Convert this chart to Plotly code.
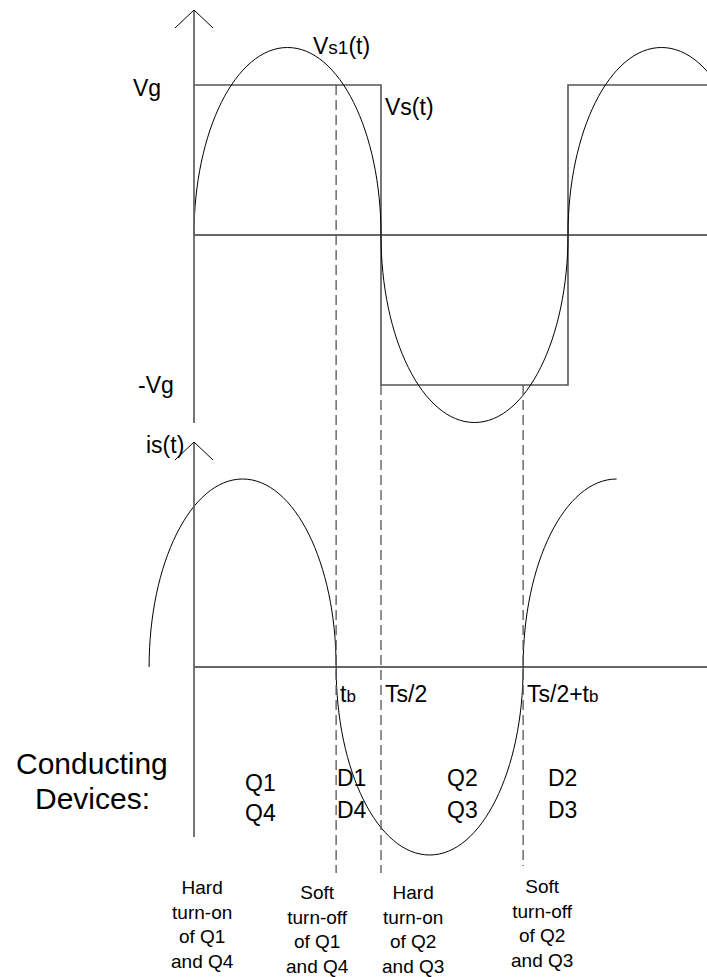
import plotly.graph_objects as go

# ---------------- data (time in units of Ts/2, voltage in Vg, current in Ipk) -------------
vs_switch_t = [0.0, 1.0, 2.0, 2.75]        # square-wave switching instants (last = view edge)
vs_levels = [1.0, -1.0, 1.0, 1.0]          # Vs(t) levels, in Vg
vs1_zero_t = [0.0, 1.0, 2.0, 3.0]          # zero crossings of Vs1(t)
vs1_peaks = [1.25, -1.25, 1.25]            # peaks of fundamental Vs1(t)
is_zero_t = [-0.24, 0.76, 1.76, 2.76]      # zero crossings of is(t)
is_peaks = [1.0, -1.0, 1.0]                # peaks of is(t)
is_full_lobe = [True, True, False]         # last lobe drawn only up to its peak
dash_t = [0.76, 1.0, 1.76]                 # tb, Ts/2, Ts/2+tb
dash_labels = ["t<span style='font-size:17px'>b</span>", "Ts/2",
               "Ts/2+t<span style='font-size:17px'>b</span>"]
devices_top = ["Q1", "D1", "Q2", "D2"]
devices_bot = ["Q4", "D4", "Q3", "D3"]
events = ["Hard<br>turn-on<br>of Q1<br>and Q4",
          "Soft<br>turn-off<br>of Q1<br>and Q4",
          "Hard<br>turn-on<br>of Q2<br>and Q3",
          "Soft<br>turn-off<br>of Q2<br>and Q3"]

# ---------------- layout geometry --------------------------------------------------------
W, H = 707, 977
X0_PX, PX_PER_T = 194, 187
V0_PX, PX_PER_V = 235, 150
I0_PX, PX_PER_I = 667, 188

xr = [-X0_PX / PX_PER_T, (W - X0_PX) / PX_PER_T]
yr_v = [(V0_PX - H) / PX_PER_V, V0_PX / PX_PER_V]
yr_i = [(I0_PX - H) / PX_PER_I, I0_PX / PX_PER_I]

FONT = "Liberation Sans, Arial, sans-serif"
K = 0.5523  # Bezier constant for quarter-ellipse arcs


def lobe_path(a, b, amp, full=True):
    h = (b - a) / 2.0
    c = a + h
    p = f"M {a},0 C {a},{K*amp} {c-K*h},{amp} {c},{amp}"
    if full:
        p += f" C {c+K*h},{amp} {b},{K*amp} {b},0"
    return p


fig = go.Figure()

# square wave Vs(t)
fig.add_trace(go.Scatter(x=vs_switch_t, y=vs_levels, mode="lines", line_shape="hv",
                         line=dict(color="#555555", width=1.6), yaxis="y",
                         hoverinfo="skip", showlegend=False))

shapes = []
# Vs1(t) fundamental: half-elliptic lobes
for i, amp in enumerate(vs1_peaks):
    shapes.append(dict(type="path", xref="x", yref="y",
                       path=lobe_path(vs1_zero_t[i], vs1_zero_t[i + 1], amp),
                       line=dict(color="black", width=1)))
# is(t)
for i, amp in enumerate(is_peaks):
    shapes.append(dict(type="path", xref="x", yref="y2",
                       path=lobe_path(is_zero_t[i], is_zero_t[i + 1], amp, is_full_lobe[i]),
                       line=dict(color="black", width=1)))

# zero (time) axes
shapes.append(dict(type="line", xref="x", yref="y", x0=0, x1=xr[1], y0=0, y1=0,
                   line=dict(color="#333333", width=1.4)))
shapes.append(dict(type="line", xref="x", yref="y2", x0=0, x1=xr[1], y0=0, y1=0,
                   line=dict(color="#333333", width=1.4)))

# vertical axes with open arrow heads
wing = 19 / PX_PER_T
ax_col = dict(color="#666666", width=1.8)
for yref, tip, wy, bot in [("y", (V0_PX - 10) / PX_PER_V, (V0_PX - 28) / PX_PER_V, (V0_PX - 423) / PX_PER_V),
                           ("y2", (I0_PX - 442) / PX_PER_I, (I0_PX - 460) / PX_PER_I, (I0_PX - 837) / PX_PER_I)]:
    shapes.append(dict(type="line", xref="x", yref=yref, x0=0, x1=0, y0=tip, y1=bot, line=ax_col))
    shapes.append(dict(type="line", xref="x", yref=yref, x0=-wing, x1=0, y0=wy, y1=tip,
                       line=dict(color="black", width=1)))
    shapes.append(dict(type="line", xref="x", yref=yref, x0=wing, x1=0, y0=wy, y1=tip,
                       line=dict(color="black", width=1)))

# dashed markers (in top-axis units, spanning both panels)
dash_top = [vs_levels[0], vs_levels[1], vs_levels[1]]
dash_bot = [(V0_PX - 873) / PX_PER_V, (V0_PX - 873) / PX_PER_V, (V0_PX - 866) / PX_PER_V]
for t, y0, y1 in zip(dash_t, dash_top, dash_bot):
    shapes.append(dict(type="line", xref="x", yref="y", x0=t, x1=t, y0=y0, y1=y1,
                       line=dict(color="#555555", width=1.3, dash="10px,5px")))

ann = []


def px_ann(text, x, y, size, xanchor="center"):
    ann.append(dict(text=text, xref="paper", yref="paper", x=x / W, y=1 - y / H,
                    xanchor=xanchor, yanchor="middle", showarrow=False,
                    font=dict(family=FONT, size=size, color="black")))


px_ann("Vg", 163, 88, 23, "right")
px_ann("-Vg", 176, 385, 23, "right")
px_ann("V<span style='font-size:19px'>s1</span>(t)", 311, 46, 23, "left")
px_ann("Vs(t)", 383, 107, 23, "left")
px_ann("is(t)", 186, 445, 23, "right")

# dashed-line labels placed at their instants
for t, lab in zip(dash_t, dash_labels):
    ann.append(dict(text=lab, xref="x", yref="y2", x=t, y=(I0_PX - 694) / PX_PER_I,
                    xanchor="left", yanchor="middle", xshift=2, showarrow=False,
                    font=dict(family=FONT, size=23, color="black")))

px_ann("Conducting", 92, 763, 30)
px_ann("Devices:", 92, 798, 30)
dev_x = [243, 335, 445, 546]
dev_y_top = [783, 778, 778, 778]
dev_y_bot = [813, 810, 810, 810]
for x, yt, yb, a, b in zip(dev_x, dev_y_top, dev_y_bot, devices_top, devices_bot):
    px_ann(a, x, yt, 23, "left")
    px_ann(b, x, yb, 23, "left")

ev_x = [202, 317, 413, 542]
ev_y = [924, 929, 929, 923]
for x, y, txt in zip(ev_x, ev_y, events):
    px_ann(txt, x, y, 19)

fig.update_layout(
    width=W, height=H, margin=dict(l=0, r=0, t=0, b=0),
    paper_bgcolor="white", plot_bgcolor="white",
    xaxis=dict(range=xr, visible=False, domain=[0, 1], fixedrange=True),
    yaxis=dict(range=yr_v, visible=False, domain=[0, 1], fixedrange=True),
    yaxis2=dict(range=yr_i, visible=False, overlaying="y", fixedrange=True),
    shapes=shapes, annotations=ann, showlegend=False,
)

fig.write_html("out.html", config={"displayModeBar": False},
               post_script="document.body.style.margin='0';")
